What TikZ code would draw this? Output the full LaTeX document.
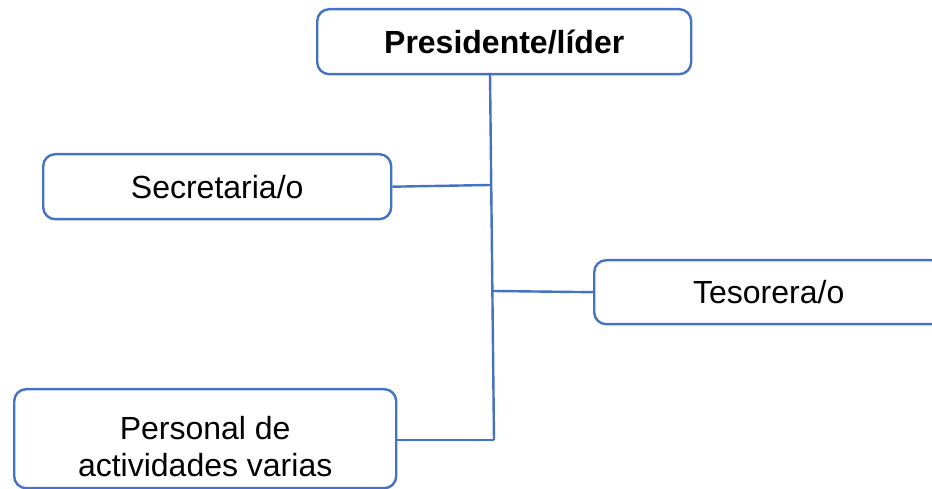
\documentclass[tikz,border=0pt]{standalone}
\usepackage{fontspec}
\setmainfont{Liberation Sans}
\definecolor{boxblue}{HTML}{4472C4}
\tikzset{
  orgbox/.style={draw=boxblue, line width=2.4pt, rounded corners=12pt, rectangle,
    inner sep=0pt, anchor=north west, font=\fontsize{32}{36.7}\selectfont, align=center},
  boxtext/.style={inner sep=0pt, font=\fontsize{32}{36.7}\selectfont, align=center},
  link/.style={draw=boxblue, line width=2.4pt}
}
\begin{document}
\begin{tikzpicture}[x=1pt,y=1pt]
\clip (0,0) rectangle (932,489);
\useasboundingbox (0,0) rectangle (932,489);
\node[orgbox, minimum width=374pt, minimum height=65pt, font=\fontsize{32}{36.7}\selectfont\bfseries] (pres) at (316,481) {Presidente/líder};
\node[orgbox, minimum width=348pt, minimum height=65pt] (sec) at (42,336) {Secretaria/o};
\node[orgbox, minimum width=349pt, minimum height=64pt] (tes) at (593,230) {Tesorera/o};
\node[orgbox, minimum width=382pt, minimum height=99pt] (per) at (13,101) {};
\node[boxtext] (pertext) at ([yshift=-8pt]per.center) {Personal de\\actividades varias};
\coordinate (t0) at (490,416);
\coordinate (bot) at (494,49);
\coordinate (j1) at (490,304);
\coordinate (j2) at (493,198);
\draw[link] (t0) -- (bot);
\draw[link] (sec.east) -- (j1);
\draw[link] (j2) -- (tes.west);
\draw[link] (per.east |- bot) -- (bot);
\end{tikzpicture}
\end{document}
